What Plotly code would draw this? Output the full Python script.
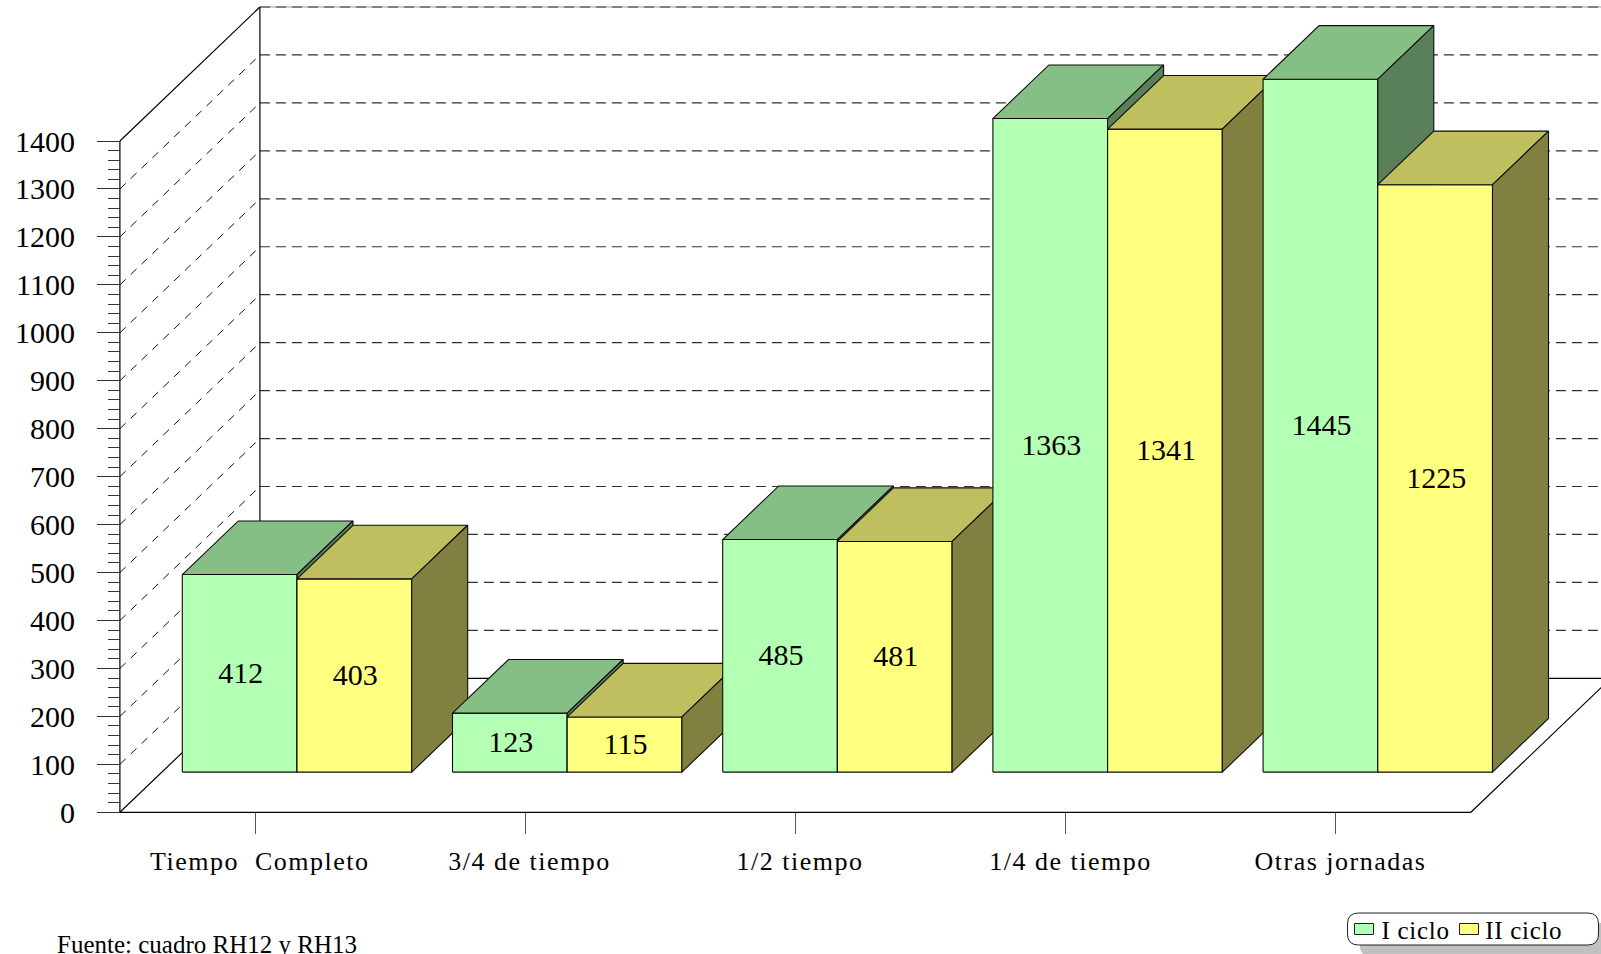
import json
import plotly.graph_objects as go

categories = ["Tiempo  Completo", "3/4 de tiempo", "1/2 tiempo", "1/4 de tiempo", "Otras jornadas"]
ciclo_1 = [412, 123, 485, 1363, 1445]
ciclo_2 = [403, 115, 481, 1341, 1225]
series_names = ["I ciclo", "II ciclo"]
y_ticks = list(range(0, 1401, 100))
y_minor = [v for v in range(0, 1401, 20) if v % 100]
source_note = "Fuente: cuadro RH12 y RH13"

W, H = 1601, 954
FONT = "Liberation Serif"
PX_PER_CAT = 270.2
PX_PER_VAL = 0.4795
X0_PX, Y0_PX = 255.0, 812.3
WALL_DX = 140 / PX_PER_CAT
WALL_DY = 134 / PX_PER_VAL
BAR_W = 114.7 / PX_PER_CAT
FRONT_D, BACK_D = 0.3, 0.7
FLOOR_L, FLOOR_R = -0.5, 4.5
STYLES = [
    dict(front="#B3FFB3", top="#86BF86", side="#5A805A"),
    dict(front="#FFFF80", top="#BFBF60", side="#808040"),
]


def proj(x, v, d):
    return x + d * WALL_DX, v + d * WALL_DY


def segments(pairs):
    xs, ys = [], []
    for a, b in pairs:
        xs += [a[0], b[0], None]
        ys += [a[1], b[1], None]
    return xs, ys


fig = go.Figure()


def add_lines(pairs, color, width, dash="solid"):
    xs, ys = segments(pairs)
    fig.add_trace(go.Scatter(x=xs, y=ys, mode="lines", showlegend=False, hoverinfo="skip",
                             line=dict(color=color, width=width, dash=dash)))


top = y_ticks[-1]
add_lines([(proj(FLOOR_L, top, 1), proj(FLOOR_R, top, 1))], "#999999", 1)
add_lines(
    [(proj(FLOOR_L, v, 0), proj(FLOOR_L, v, 1)) for v in y_ticks[1:-1]],
    "#111111", 1, "8px,7px",
)
add_lines(
    [(proj(FLOOR_L, v, 1), proj(FLOOR_R, v, 1)) for v in y_ticks[1:]],
    "#333333", 1.2, "10px,6px",
)
add_lines(
    [
        (proj(FLOOR_L, 0, 0), proj(FLOOR_L, top, 0)),
        (proj(FLOOR_L, 0, 1), proj(FLOOR_L, top, 1)),
        (proj(FLOOR_L, top, 0), proj(FLOOR_L, top, 1)),
        (proj(FLOOR_L, 0, 0), proj(FLOOR_R, 0, 0)),
        (proj(FLOOR_L, 0, 0), proj(FLOOR_L, 0, 1)),
        (proj(FLOOR_R, 0, 0), proj(FLOOR_R, 0, 1)),
        (proj(FLOOR_L, 0, 1), proj(FLOOR_R, 0, 1)),
    ],
    "#000000", 1.2,
)


def polygon(points, color, name):
    fig.add_trace(go.Scatter(
        x=[p[0] for p in points] + [points[0][0]],
        y=[p[1] for p in points] + [points[0][1]],
        mode="lines", fill="toself", fillcolor=color, name=name,
        line=dict(color="#0d0d0d", width=1.1), showlegend=False, hoverinfo="skip",
    ))


label_x, label_y, label_text = [], [], []
for i in range(len(categories)):
    for s, values in enumerate((ciclo_1, ciclo_2)):
        v = values[i]
        x1 = i - BAR_W + s * BAR_W
        x2 = x1 + BAR_W
        st = STYLES[s]
        polygon([proj(x1, 0, FRONT_D), proj(x2, 0, FRONT_D), proj(x2, v, FRONT_D), proj(x1, v, FRONT_D)],
                st["front"], series_names[s])
        polygon([proj(x1, v, FRONT_D), proj(x2, v, FRONT_D), proj(x2, v, BACK_D), proj(x1, v, BACK_D)],
                st["top"], series_names[s])
        polygon([proj(x2, 0, FRONT_D), proj(x2, 0, BACK_D), proj(x2, v, BACK_D), proj(x2, v, FRONT_D)],
                st["side"], series_names[s])
        cx, cy = proj((x1 + x2) / 2, v / 2, FRONT_D)
        label_x.append(cx + 1 / PX_PER_CAT)
        label_y.append(cy - 2 / PX_PER_VAL)
        label_text.append(str(v))

fig.add_trace(go.Scatter(x=label_x, y=label_y, text=label_text, mode="text", showlegend=False,
                         hoverinfo="skip", textposition="middle center",
                         textfont=dict(family=FONT, size=30, color="#000000")))

annotations = [
    dict(x=i, y=0, xref="x", yref="y", text=c, showarrow=False, xanchor="center", yanchor="middle",
         xshift=4.5, yshift=-49, font=dict(family=FONT, size=26, color="#000000"))
    for i, c in enumerate(categories)
]


def px(x):
    return x / W


def py(y):
    return 1 - y / H


annotations.append(dict(x=px(55), y=py(944), xref="paper", yref="paper", text=source_note, showarrow=False,
                        xanchor="left", yanchor="middle", font=dict(family=FONT, size=25, color="#000000")))


def rounded(x0, y0, x1, y1, r):
    return (
        f"M {px(x0 + r)} {py(y0)} L {px(x1 - r)} {py(y0)} Q {px(x1)} {py(y0)} {px(x1)} {py(y0 + r)} "
        f"L {px(x1)} {py(y1 - r)} Q {px(x1)} {py(y1)} {px(x1 - r)} {py(y1)} "
        f"L {px(x0 + r)} {py(y1)} Q {px(x0)} {py(y1)} {px(x0)} {py(y1 - r)} "
        f"L {px(x0)} {py(y0 + r)} Q {px(x0)} {py(y0)} {px(x0 + r)} {py(y0)} Z"
    )


shapes = [
    dict(type="path", xref="paper", yref="paper", path=rounded(1360, 923, 1612, 956, 10),
         fillcolor="#C0C0C0", line=dict(width=0)),
    dict(type="path", xref="paper", yref="paper", path=rounded(1347.5, 913, 1598.5, 945, 11),
         fillcolor="#FFFFFF", line=dict(color="#222222", width=1)),
]
for s, (sx, tx) in enumerate(((1354.5, 1382), (1459.5, 1486))):
    shapes.append(dict(type="rect", xref="paper", yref="paper", x0=px(sx), x1=px(sx + 19),
                       y0=py(934.5), y1=py(923.5), fillcolor=STYLES[s]["front"],
                       line=dict(color="#222222", width=1)))
    annotations.append(dict(x=px(tx), y=py(930), xref="paper", yref="paper", text=series_names[s],
                            showarrow=False, xanchor="left", yanchor="middle",
                            font=dict(family=FONT, size=25, color="#000000")))

fig.update_layout(
    width=W, height=H, margin=dict(l=0, r=0, t=0, b=0), autosize=False,
    paper_bgcolor="#FFFFFF", plot_bgcolor="#FFFFFF", showlegend=False,
    shapes=shapes, annotations=annotations,
    xaxis=dict(
        range=[-X0_PX / PX_PER_CAT, (W - X0_PX) / PX_PER_CAT], domain=[0, 1],
        anchor="free", position=1 - Y0_PX / H,
        tickmode="array", tickvals=list(range(len(categories))), ticktext=[""] * len(categories),
        ticks="outside", ticklen=21, tickwidth=1, tickcolor="#555555",
        showgrid=False, zeroline=False, showline=False,
    ),
    yaxis=dict(
        range=[(Y0_PX - H) / PX_PER_VAL, Y0_PX / PX_PER_VAL], domain=[0, 1],
        anchor="free", position=(X0_PX + FLOOR_L * PX_PER_CAT) / W,
        tickmode="array", tickvals=y_ticks, ticktext=[str(v) for v in y_ticks],
        ticks="outside", ticklen=23, tickwidth=1, tickcolor="#333333",
        ticklabelstandoff=16,
        tickfont=dict(family=FONT, size=30, color="#000000"),
        minor=dict(tickmode="array", tickvals=y_minor, ticks="outside", ticklen=12,
                   tickwidth=1, tickcolor="#333333"),
        showgrid=False, zeroline=False, showline=False,
    ),
)

spacing = {c: "1.5px" for c in categories}
spacing.update({n: "0.7px" for n in series_names})
script = (
    "document.body.style.margin='0';document.body.style.overflow='hidden';"
    f"var sp={json.dumps(spacing)};"
    "document.querySelectorAll('.annotation-text').forEach(function(t){"
    "var k=t.textContent;if(sp[k]){t.style.letterSpacing=sp[k];}});"
)
fig.write_html("out.html", config=dict(displayModeBar=False), post_script=script)
